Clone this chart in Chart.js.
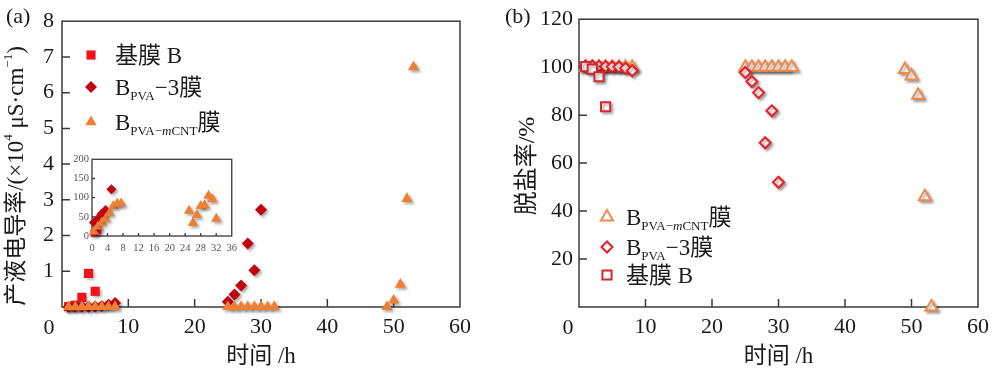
<!DOCTYPE html>
<html>
<head>
<meta charset="utf-8">
<script src="https://cdn.jsdelivr.net/npm/chart.js@4.4.0/dist/chart.umd.min.js"></script>
<style>
  html, body { margin: 0; padding: 0; background: #fff; }
  #wrap { position: relative; width: 997px; height: 372px; }
  canvas { position: absolute; }
</style>
</head>
<body>
<div id="wrap">
  <canvas id="chartA" width="500" height="372" style="left:0;top:0"></canvas>
  <canvas id="chartB" width="497" height="372" style="left:500px;top:0"></canvas>
  <canvas id="inset" width="183" height="110" style="left:60px;top:150px"></canvas>
</div>
<script>
const FONT = '"Liberation Serif", "Noto Sans CJK SC", serif';

// (a) conductivity of permeate, x10^4 uS/cm
const baseHoursA = [1, 2, 3, 4, 5];
const baseCondA = [0.01, 0.05, 0.27, 0.94, 0.44];
const pvaHoursA = [1, 2, 3, 4, 5, 6, 7, 8, 25, 26, 27, 28, 29, 30];
const pvaCondA = [0.003, 0.004, 0.006, 0.007, 0.012, 0.03, 0.06, 0.11, 0.15, 0.35, 0.6, 1.78, 1.03, 2.72];
const cntHoursA = [1, 2, 3, 4, 5, 6, 7, 8, 25, 26, 27, 28, 29, 30, 31, 32, 49, 50, 51, 52, 53];
const cntCondA = [0.001, 0.002, 0.003, 0.004, 0.006, 0.007, 0.008, 0.008, 0.006, 0.003, 0.005, 0.008, 0.008, 0.01, 0.009, 0.004, 0.01, 0.19, 0.63, 3.03, 6.72];

// inset of (a), uS/cm
const baseHoursIn = [0.5, 1.5];
const baseCondIn = [8, 14];
const pvaHoursIn = [0.5, 1.5, 2.5, 3.5, 5];
const pvaCondIn = [35, 45, 58, 68, 122];
const cntHoursIn = [0.5, 1.5, 2.5, 3.5, 4.5, 5.5, 6.5, 7.5, 25, 26, 27, 28, 29, 30, 31, 32];
const cntCondIn = [12, 25, 35, 45, 60, 78, 85, 85, 66, 34, 55, 78, 80, 105, 96, 45];

// (b) salt rejection, %
const baseHoursB = [1, 2, 3, 4];
const baseRejB = [100.2, 99.2, 96, 83.5];
const pvaHoursB = [1, 2, 3, 4, 5, 6, 7, 8, 25, 26, 27, 28, 29, 30];
const pvaRejB = [100.5, 100.5, 100.4, 100.3, 100.2, 100.1, 99.5, 98.5, 97.8, 94, 89.4, 68.5, 81.8, 52];
const cntHoursB = [1, 2, 3, 4, 5, 6, 7, 8, 25, 26, 27, 28, 29, 30, 31, 32, 49, 50, 51, 52, 53];
const cntRejB = [100, 100, 100, 100, 100, 100, 100, 100, 100, 100, 100, 100, 100, 100, 100, 100, 99, 96.3, 88.3, 46, 0];

const xTitle = '时间 /h';

const toPts = (xs, ys) => xs.map((x, i) => ({ x, y: ys[i] }));

// draw text made of several pieces (subscripts / superscripts)
function drawRich(ctx, parts, x, y) {
  parts.forEach(p => {
    ctx.font = (p.italic ? 'italic ' : '') + p.size + 'px ' + FONT;
    ctx.fillText(p.t, x, y + (p.dy || 0));
    x += ctx.measureText(p.t).width;
  });
}
function richWidth(ctx, parts) {
  return parts.reduce((w, p) => {
    ctx.font = (p.italic ? 'italic ' : '') + p.size + 'px ' + FONT;
    return w + ctx.measureText(p.t).width;
  }, 0);
}

const labelBase = [{ t: '基膜 B', size: 23 }];
const labelPva = [{ t: 'B', size: 23 }, { t: 'PVA', size: 13, dy: 5 }, { t: '−3膜', size: 23 }];
const labelCnt = [{ t: 'B', size: 23 }, { t: 'PVA−', size: 13, dy: 5 }, { t: 'm', size: 13, dy: 5, italic: true },
                  { t: 'CNT', size: 13, dy: 5 }, { t: '膜', size: 23 }];

const panelDecor = {
  id: 'panelDecor',
  beforeDatasetsDraw(chart, args, opts) {
    const { ctx, chartArea: a, scales: { x, y } } = chart;
    ctx.save();
    ctx.strokeStyle = '#3a3a3a';
    ctx.lineWidth = opts.frameWidth || 1.5;
    ctx.strokeRect(a.left, a.top, a.right - a.left, a.bottom - a.top);
    const tl = opts.tickLen || 0;
    if (tl) {
      ctx.beginPath();
      x.ticks.forEach(t => {
        const p = x.getPixelForValue(t.value);
        if (p > a.left + 1 && p < a.right - 1) { ctx.moveTo(p, a.bottom); ctx.lineTo(p, a.bottom - tl); }
      });
      y.ticks.forEach(t => {
        const p = y.getPixelForValue(t.value);
        if (p > a.top + 1 && p < a.bottom - 1) { ctx.moveTo(a.left, p); ctx.lineTo(a.left + tl, p); }
      });
      ctx.stroke();
    }
    ctx.restore();
    // soft shadow under the markers
    ctx.save();
    ctx.shadowColor = 'rgba(0,0,0,0.35)';
    ctx.shadowBlur = 3;
    ctx.shadowOffsetX = 2;
    ctx.shadowOffsetY = 2;
  },
  afterDatasetsDraw(chart) {
    chart.ctx.restore();
  },
  afterDraw(chart, args, opts) {
    const { ctx, chartArea: a } = chart;
    ctx.save();
    ctx.fillStyle = '#1a1a1a';
    if (opts.letter) {
      ctx.font = '22px ' + FONT;
      ctx.textAlign = 'left';
      ctx.textBaseline = 'middle';
      ctx.fillText(opts.letter, opts.letterX, 17);
    }
    if (opts.zero) {
      ctx.font = '22px ' + FONT;
      ctx.textAlign = 'center';
      ctx.textBaseline = 'middle';
      ctx.fillText('0', a.left - opts.zero, a.bottom + 21);
    }
    if (opts.yTitle) {
      ctx.save();
      ctx.translate(opts.yTitleX, opts.yTitleY);
      ctx.rotate(-Math.PI / 2);
      ctx.textAlign = 'left';
      ctx.textBaseline = 'middle';
      const w = richWidth(ctx, opts.yTitle);
      drawRich(ctx, opts.yTitle, -w / 2, 0);
      ctx.restore();
    }
    if (opts.legend) {
      ctx.textAlign = 'left';
      ctx.textBaseline = 'alphabetic';
      opts.legend.forEach(item => {
        const ds = chart.data.datasets[item.ds];
        ctx.fillStyle = ds.backgroundColor;
        ctx.strokeStyle = ds.borderColor;
        ctx.lineWidth = ds.borderWidth;
        Chart.helpers.drawPoint(ctx, { pointStyle: ds.pointStyle, radius: ds.pointRadius, rotation: 0, borderWidth: ds.borderWidth },
          opts.legendX, item.y);
        ctx.fillStyle = '#1a1a1a';
        drawRich(ctx, item.parts, opts.legendTextX, item.y + 8);
      });
    }
    ctx.restore();
  }
};

function axes(xMax, xStep, yMax, yStep, yWidth, yPad) {
  return {
    x: {
      type: 'linear', min: 0, max: xMax,
      grid: { display: false, drawTicks: false },
      border: { display: false },
      ticks: { stepSize: xStep, padding: 7, color: '#1a1a1a', font: { family: FONT, size: 22 },
               callback: v => (v === 0 ? '' : v) },
      title: { display: true, text: xTitle, color: '#1a1a1a', font: { family: FONT, size: 23 }, padding: { top: 0, bottom: 1 } },
      afterFit: s => { s.height = 65; }
    },
    y: {
      type: 'linear', min: 0, max: yMax,
      grid: { display: false, drawTicks: false },
      border: { display: false },
      ticks: { stepSize: yStep, padding: yPad, color: '#1a1a1a', font: { family: FONT, size: 22 },
               callback: v => (v === 0 ? '' : v) },
      afterFit: s => { s.width = yWidth; }
    }
  };
}

const common = {
  responsive: false,
  animation: false,
  devicePixelRatio: 1,
  events: []
};

// panel (a)
new Chart(document.getElementById('chartA'), {
  type: 'scatter',
  data: {
    datasets: [
      { label: 'BPVA-mCNT膜', data: toPts(cntHoursA, cntCondA), pointStyle: 'triangle', pointRadius: 6.5,
        backgroundColor: '#f07f34', borderColor: '#f07f34', borderWidth: 0, clip: false },
      { label: 'BPVA-3膜', data: toPts(pvaHoursA, pvaCondA), pointStyle: 'rectRot', pointRadius: 6,
        backgroundColor: '#c3000f', borderColor: '#c3000f', borderWidth: 0, clip: false },
      { label: '基膜 B', data: toPts(baseHoursA, baseCondA), pointStyle: 'rect', pointRadius: 6.5,
        backgroundColor: '#f2121c', borderColor: '#f2121c', borderWidth: 0, clip: false }
    ]
  },
  options: {
    ...common,
    layout: { padding: { left: 0, top: 19, right: 40, bottom: 0 } },
    scales: axes(60, 10, 8, 1, 62, 8),
    plugins: {
      legend: { display: false },
      tooltip: { enabled: false },
      panelDecor: {
        letter: '(a)', letterX: 6, tickLen: 8, zero: 13,
        yTitleX: 17, yTitleY: 176,
        yTitle: [{ t: '产液电导率/(×10', size: 23 }, { t: '4', size: 13, dy: -8 }, { t: ' μS·cm', size: 23 },
                 { t: '−1', size: 13, dy: -8 }, { t: ')', size: 23 }],
        legendX: 91, legendTextX: 115,
        legend: [
          { ds: 2, y: 55, parts: labelBase },
          { ds: 1, y: 87, parts: labelPva },
          { ds: 0, y: 122, parts: labelCnt }
        ]
      }
    }
  },
  plugins: [panelDecor]
});

// inset of (a)
new Chart(document.getElementById('inset'), {
  type: 'scatter',
  data: {
    datasets: [
      { data: toPts(cntHoursIn, cntCondIn), pointStyle: 'triangle', pointRadius: 6,
        backgroundColor: '#f07f34', borderColor: '#f07f34', borderWidth: 0, clip: false },
      { data: toPts(pvaHoursIn, pvaCondIn), pointStyle: 'rectRot', pointRadius: 5,
        backgroundColor: '#c3000f', borderColor: '#c3000f', borderWidth: 0, clip: false },
      { data: toPts(baseHoursIn, baseCondIn), pointStyle: 'rect', pointRadius: 5,
        backgroundColor: '#f2121c', borderColor: '#f2121c', borderWidth: 0, clip: false }
    ]
  },
  options: {
    ...common,
    layout: { padding: { left: 0, top: 7, right: 7, bottom: 0 } },
    scales: {
      x: {
        type: 'linear', min: 0, max: 36,
        grid: { display: false, drawTicks: false }, border: { display: false },
        ticks: { stepSize: 4, padding: 6, autoSkip: false, maxRotation: 0, color: '#555',
                 font: { family: FONT, size: 10.5 } },
        afterFit: s => { s.height = 24; }
      },
      y: {
        type: 'linear', min: 0, max: 200,
        grid: { display: false, drawTicks: false }, border: { display: false },
        ticks: { stepSize: 50, padding: 3, autoSkip: false, color: '#555', font: { family: FONT, size: 10.5 } },
        afterFit: s => { s.width = 32; }
      }
    },
    plugins: {
      legend: { display: false },
      tooltip: { enabled: false },
      panelDecor: { frameWidth: 1.3, tickLen: 3 }
    }
  },
  plugins: [panelDecor]
});

// panel (b)
new Chart(document.getElementById('chartB'), {
  type: 'scatter',
  data: {
    datasets: [
      { label: '基膜 B', data: toPts(baseHoursB, baseRejB), pointStyle: 'rect', pointRadius: 6.5,
        backgroundColor: '#ffffff', borderColor: '#d8262e', borderWidth: 2, clip: false },
      { label: 'BPVA-3膜', data: toPts(pvaHoursB, pvaRejB), pointStyle: 'rectRot', pointRadius: 5.5,
        backgroundColor: '#ffffff', borderColor: '#ee1c25', borderWidth: 2, clip: false },
      { label: 'BPVA-mCNT膜', data: toPts(cntHoursB, cntRejB), pointStyle: 'triangle', pointRadius: 7,
        backgroundColor: '#ffffff', borderColor: '#f08a4b', borderWidth: 2, clip: false }
    ]
  },
  options: {
    ...common,
    layout: { padding: { left: 0, top: 19, right: 19, bottom: 0 } },
    scales: axes(60, 10, 120, 20, 79, 6),
    plugins: {
      legend: { display: false },
      tooltip: { enabled: false },
      panelDecor: {
        letter: '(b)', letterX: 5, tickLen: 8, zero: 11,
        yTitleX: 28, yTitleY: 166,
        yTitle: [{ t: '脱盐率/%', size: 24 }],
        legendX: 107, legendTextX: 126,
        legend: [
          { ds: 2, y: 217, parts: labelCnt },
          { ds: 1, y: 247, parts: labelPva },
          { ds: 0, y: 275, parts: labelBase }
        ]
      }
    }
  },
  plugins: [panelDecor]
});
</script>
</body>
</html>
